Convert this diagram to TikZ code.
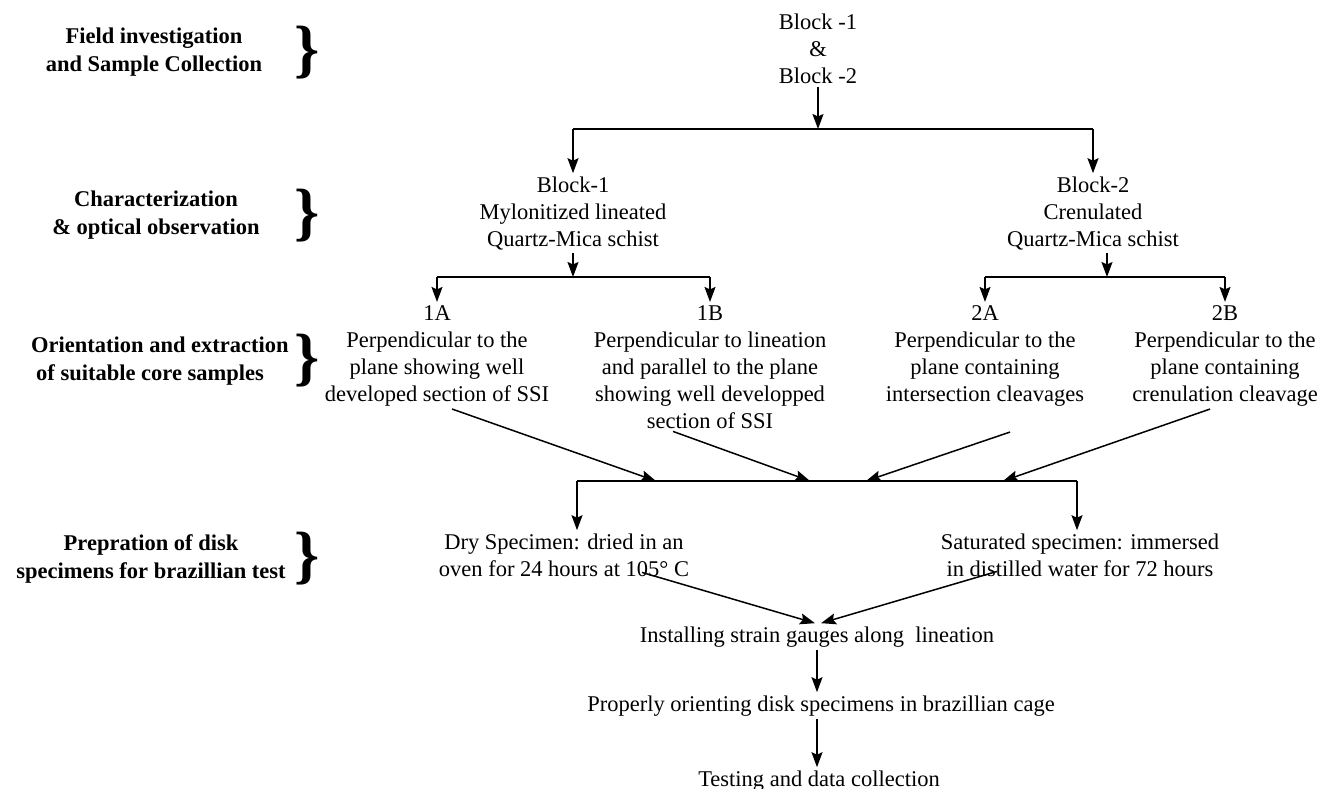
\documentclass[tikz,border=0pt]{standalone}
\usepackage{fontspec}
\setmainfont{Liberation Serif}
\usetikzlibrary{arrows.meta, positioning}
\tikzset{
    textnode/.style = {draw=none, fill=none, rectangle, inner sep=3pt, align=center, anchor=base,
      font=\fontsize{22.5}{27}\selectfont},
    labelnode/.style = {textnode, font=\fontsize{22.5}{28}\selectfont\bfseries},
    bracenode/.style = {draw=none, fill=none, inner sep=0pt, font=\fontsize{64}{64}\selectfont\bfseries},
    connect/.style = {black, line width=1.5pt, -{Stealth[length=15pt, width=11pt, inset=2.5pt]}},
    barline/.style = {black, line width=1.5pt}
}

\begin{document}
\begin{tikzpicture}[x=1pt, y=-1pt]
\useasboundingbox (0,0) rectangle (1326,789);

\node[labelnode, name=field] at (154,72) {Field investigation\\and Sample Collection};
\node[labelnode, name=charac] at (156,234) {Characterization\\\& optical observation};
\node[labelnode, name=orient, anchor=base west, align=left] at (28,380) {Orientation and extraction\\\hspace*{5pt}of suitable core samples};
\node[labelnode, name=prep] at (151,578) {Prepration of disk\\specimens for brazillian test};

\node[bracenode, name=brace1] at (307,52.5) {\}};
\node[bracenode, name=brace2] at (307,215.5) {\}};
\node[bracenode, name=brace3] at (307,360.5) {\}};
\node[bracenode, name=brace4] at (307,558.5) {\}};

\node[textnode, name=blocks] at (818,84) {Block -1\\\&\\Block -2};
\coordinate (fork1) at (818,129);
\draw (blocks) edge[connect] (fork1);

\node[textnode, name=block1] at (573,246) {Block-1\\Mylonitized lineated\\Quartz-Mica schist};
\node[textnode, name=block2] at (1093,246) {Block-2\\Crenulated\\Quartz-Mica schist};
\draw[barline] (block1 |- fork1) -- (block2 |- fork1);
\draw[connect] (block1 |- fork1) -- (block1.north);
\draw[connect] (block2 |- fork1) -- (block2.north);

\coordinate (fork2) at (573,277);
\coordinate (fork3) at (1107,277);
\draw[connect] (block1.south) -- (fork2);
\draw[connect] (block2.south -| fork3) -- (fork3);

\node[textnode, name=s1a] at (437,401) {1A\\Perpendicular to the\\plane showing well\\developed section of SSI};
\node[textnode, name=s1b] at (710,428) {1B\\Perpendicular to lineation\\and parallel to the plane\\showing well developped\\section of SSI};
\node[textnode, name=s2a] at (985,401) {2A\\Perpendicular to the\\plane containing\\intersection cleavages};
\node[textnode, name=s2b] at (1225,401) {2B\\Perpendicular to the\\plane containing\\crenulation cleavage};

\draw[barline] (s1a |- fork2) -- (s1b |- fork2);
\draw[connect] (s1a |- fork2) -- (s1a.north);
\draw[connect] (s1b |- fork2) -- (s1b.north);
\draw[barline] (s2a |- fork3) -- (s2b |- fork3);
\draw[connect] (s2a |- fork3) -- (s2a.north);
\draw[connect] (s2b |- fork3) -- (s2b.north);

\node[textnode, name=dry] at (564,576) {Dry Specimen: dried in an\\oven for 24 hours at 105° C};
\node[textnode, name=sat] at (1080,576) {Saturated specimen: immersed\\in distilled water for 72 hours};

\coordinate (split1) at (577,481);
\coordinate (split2) at (1077,481);
\coordinate (join1) at (656,481);
\coordinate (join2) at (810,481);
\coordinate (join3) at (866,481);
\coordinate (join4) at (1003,481);
\draw[barline] (split1) -- (split2);
\draw[connect] ([xshift=15pt]s1a.south) -- (join1);
\draw[connect] ([xshift=-37pt]s1b.south) -- (join2);
\draw[connect] ([xshift=25pt, yshift=-23pt]s2a.south) -- (join3);
\draw[connect] ([xshift=-15pt]s2b.south) -- (join4);
\draw[connect] (split1) -- (split1 |- dry.north);
\draw[connect] (split2) -- (split2 |- sat.north);

\node[textnode, name=install] at (817,642) {Installing strain gauges along\ \ lineation};
\node[textnode, name=orientcage] at (821,711) {Properly orienting disk specimens in brazillian cage};
\node[textnode, name=testing] at (819,786) {Testing and data collection};

\draw[connect] ([xshift=78pt, yshift=7pt]dry.south) -- ([xshift=-2pt]install.north);
\draw[connect] ([xshift=-83pt, yshift=8pt]sat.south) -- ([xshift=4pt]install.north);
\draw[connect] (install.south) -- (install.south |- orientcage.north);
\draw[connect] (orientcage.south -| install.south) -- (install.south |- testing.north);
\end{tikzpicture}
\end{document}
